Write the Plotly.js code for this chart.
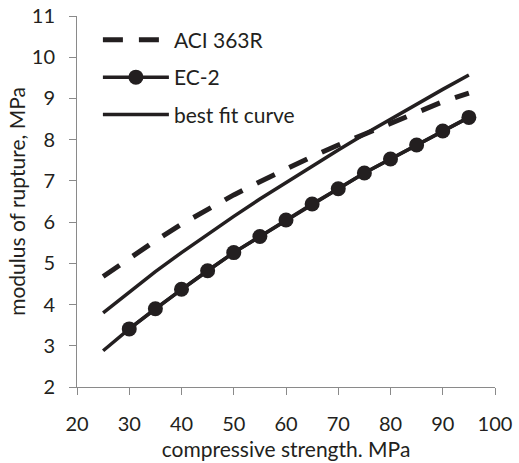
<!DOCTYPE html>
<html><head><meta charset="utf-8">
<script src="https://cdn.plot.ly/plotly-3.0.1.min.js"></script>
<style>html,body{margin:0;padding:0;background:#fff}#chart{width:519px;height:463px}</style>
</head><body><div id="chart"></div>
<script>
var fcLines = [25,30,35,40,45,50,55,60,65,70,75,80,85,90,95];
var aci363R = [4.68,5.13,5.55,5.95,6.31,6.66,6.98,7.29,7.59,7.87,8.14,8.41,8.67,8.92,9.13];
var ec2X = [25,30,35,40,45,50,55,60,65,70,75,80,85,90,95];
var ec2 = [2.88,3.41,3.90,4.37,4.82,5.26,5.65,6.05,6.44,6.81,7.19,7.53,7.87,8.21,8.54];
var ec2MarkerX = [30,35,40,45,50,55,60,65,70,75,80,85,90,95];
var ec2Marker = [3.41,3.90,4.37,4.82,5.26,5.65,6.05,6.44,6.81,7.19,7.53,7.87,8.21,8.54];
var bestFit = [3.80,4.31,4.80,5.26,5.71,6.14,6.56,6.96,7.36,7.75,8.13,8.50,8.86,9.22,9.57];
var xTicks = [20,30,40,50,60,70,80,90,100];
var yTicks = [2,3,4,5,6,7,8,9,10,11];

var ink = '#231f20';
var fontFam = 'Lato, "Open Sans", sans-serif';
var traces = [
  {x: fcLines, y: aci363R, mode: 'lines', name: 'ACI 363R', legendgroup: 'a',
   line: {color: ink, width: 5, dash: '20px,16px'}},
  {x: ec2X, y: ec2, mode: 'lines', name: 'EC-2', legendgroup: 'b', showlegend: false,
   line: {color: ink, width: 3.5}},
  {x: ec2MarkerX, y: ec2Marker, mode: 'lines+markers', name: 'EC-2', legendgroup: 'b',
   line: {color: ink, width: 3.5}, marker: {color: ink, size: 15}},
  {x: fcLines, y: bestFit, mode: 'lines', name: 'best fit curve', legendgroup: 'c',
   line: {color: ink, width: 3.5}}
];
var axisCommon = {
  showgrid: false, zeroline: false, showline: true, linecolor: '#8a8a8a', linewidth: 1,
  ticks: 'outside', ticklen: 7, tickcolor: '#8a8a8a', tickwidth: 1,
  tickfont: {family: fontFam, size: 20, color: ink}
};
var layout = {
  width: 519, height: 463,
  margin: {l: 77, r: 24, t: 16, b: 76},
  paper_bgcolor: '#fff', plot_bgcolor: '#fff',
  font: {family: fontFam, color: ink},
  xaxis: Object.assign({}, axisCommon, {range: [20, 100], tickvals: xTicks, ticklabelstandoff: 12,
    title: {text: 'compressive strength. MPa', font: {family: fontFam, size: 21, color: ink}, standoff: 8}}),
  yaxis: Object.assign({}, axisCommon, {range: [2, 11], tickvals: yTicks, ticklabelstandoff: 10,
    title: {text: 'modulus of rupture, MPa', font: {family: fontFam, size: 21, color: ink}, standoff: 0}}),
  showlegend: true,
  legend: {x: 0.05, y: 0.99, xanchor: 'left', yanchor: 'top', bgcolor: 'rgba(0,0,0,0)',
    font: {family: fontFam, size: 21, color: ink}, itemwidth: 66, tracegroupgap: 7,
    traceorder: 'grouped'}
};
Plotly.newPlot('chart', traces, layout, {staticPlot: true, displayModeBar: false});
</script>
</body></html>
